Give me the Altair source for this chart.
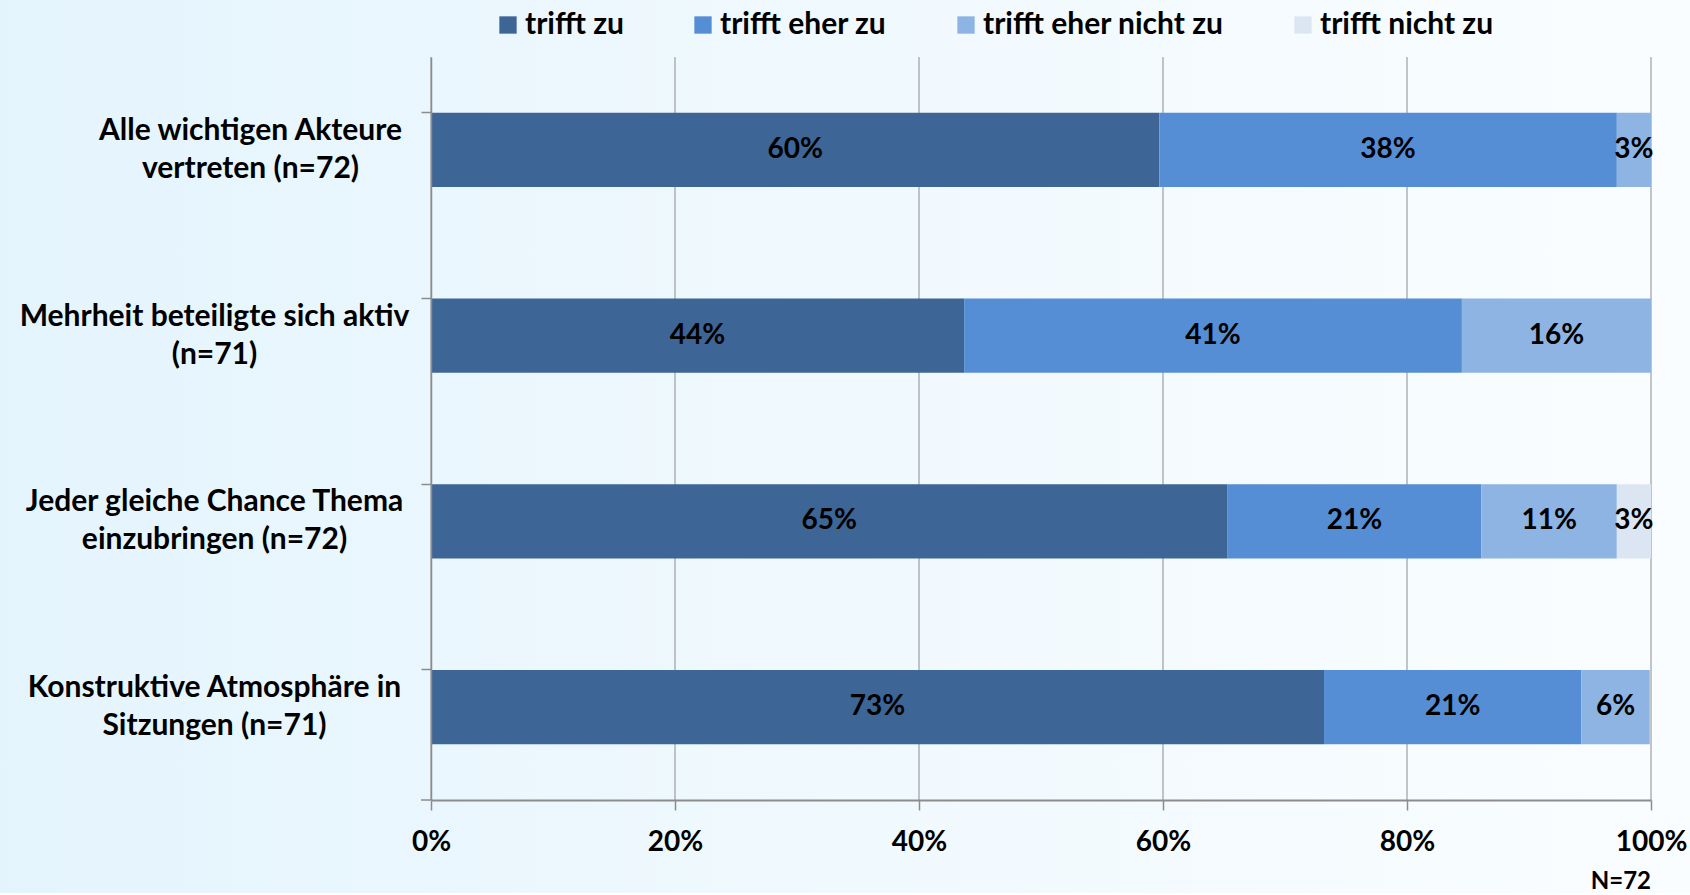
import altair as alt
import pandas as pd

# ---- data ----
categories = [
    "Alle wichtigen Akteure|vertreten (n=72)",
    "Mehrheit beteiligte sich aktiv|(n=71)",
    "Jeder gleiche Chance Thema|einzubringen (n=72)",
    "Konstruktive Atmosphäre in|Sitzungen (n=71)",
]
answers = ["trifft zu", "trifft eher zu", "trifft eher nicht zu", "trifft nicht zu"]
trifft_zu = [59.7, 43.7, 65.3, 73.2]
trifft_eher_zu = [37.5, 40.8, 20.8, 21.1]
trifft_eher_nicht_zu = [2.8, 15.5, 11.1, 5.6]
trifft_nicht_zu = [0.0, 0.0, 2.8, 0.0]
x_ticks = [0, 20, 40, 60, 80, 100]
colors = ["#3d6596", "#558ed5", "#8eb4e3", "#dce6f2"]
footnote = "N=72"

series = [trifft_zu, trifft_eher_zu, trifft_eher_nicht_zu, trifft_nicht_zu]
rows = []
for i, cat in enumerate(categories):
    start = 0.0
    for j, ans in enumerate(answers):
        v = series[j][i]
        rows.append({
            "category": cat, "answer": ans, "order": j,
            "start": start, "end": start + v, "mid": start + v / 2,
            "value": v, "label": f"{v:.0f}%" if v > 0 else "",
        })
        start += v
df = pd.DataFrame(rows)
df_bars = df[df["value"] > 0]
df_grid = pd.DataFrame({"tick": x_ticks})

FONT = "Lato"
GRAY = "#8c8c8c"
W, H = 1220, 743

bg = alt.Chart(alt.Data(values=[{}])).mark_rect(
    fill={"gradient": "linear", "x1": 0, "x2": 1, "y1": 0, "y2": 0,
          "stops": [{"offset": 0, "color": "#e4f4fd"},
                    {"offset": 0.5, "color": "#f0f9fe"},
                    {"offset": 1, "color": "#fafdff"}]}
).encode(x=alt.value(-431), x2=alt.value(W + 39), y=alt.value(-57), y2=alt.value(H + 93))

x_scale = alt.Scale(domain=[0, 100], nice=False)
x_axis = alt.Axis(
    title=None, values=x_ticks, labelExpr="datum.value + '%'", grid=False,
    domainColor=GRAY, domainWidth=2, tickColor=GRAY, tickWidth=1.5, tickSize=10,
    labelPadding=18, labelFlush=False, labelAlign="center", zindex=1,
    labelFont=FONT, labelFontSize=28, labelFontWeight="bold", labelColor="black",
)

grid = alt.Chart(df_grid).mark_rule(color=GRAY, strokeWidth=1).encode(
    x=alt.X("tick:Q", scale=x_scale, axis=x_axis),
    y=alt.value(0), y2=alt.value(H),
)

y_enc = alt.Y(
    "category:N", sort=categories,
    scale=alt.Scale(domain=categories, paddingInner=0.6, paddingOuter=0.3),
    axis=alt.Axis(
        title=None, labelExpr="split(datum.label, '|')", labelAlign="center",
        labelBaseline="middle",
        labelPadding={"condition": {"test": f"datum.value === '{categories[0]}'", "value": 171},
                      "value": 207},
        labelLineHeight=38, labelOffset=-19,
        tickSize=10, bandPosition=0, domainColor=GRAY, tickColor=GRAY,
        domainWidth=1.5, tickWidth=1.5,
        labelFont=FONT, labelFontSize=30, labelFontWeight="bold", labelColor="black",
        labelLimit=1000, zindex=1,
    ),
)

bars = alt.Chart(df_bars).mark_bar(opacity=1).encode(
    y=y_enc,
    x=alt.X("start:Q", scale=x_scale, axis=x_axis),
    x2="end:Q",
    color=alt.Color(
        "answer:N",
        scale=alt.Scale(domain=answers, range=colors),
        legend=alt.Legend(
            title=None, orient="none", legendX=62, legendY=-47, direction="horizontal",
            symbolType="square", symbolSize=300, symbolStrokeWidth=0, symbolOpacity=1,
            labelFont=FONT, labelFontSize=30, labelFontWeight="bold", labelColor="black",
            columnPadding=64, labelOffset=2, labelLimit=1000,
        ),
    ),
    order=alt.Order("order:Q"),
)

labels = alt.Chart(df_bars).mark_text(
    font=FONT, fontSize=28, fontWeight="bold", color="black", baseline="middle", align="center"
).encode(
    y=alt.Y("category:N", sort=categories),
    x=alt.X("mid:Q"),
    text="label:N",
)

bottom_tick = alt.Chart(alt.Data(values=[{}])).mark_rule(color=GRAY, strokeWidth=1.5).encode(
    x=alt.value(-10), x2=alt.value(0), y=alt.value(H)
)

note = alt.Chart(alt.Data(values=[{}])).mark_text(
    font=FONT, fontSize=24, fontWeight="bold", color="black", align="right", baseline="middle"
).encode(x=alt.value(W), y=alt.value(H + 82), text=alt.value(footnote))

chart = alt.layer(bg, grid, bars, labels, bottom_tick, note).properties(
    width=W, height=H,
    autosize=alt.AutoSizeParams(type="none"),
    padding={"left": 431, "top": 57, "right": 39, "bottom": 95},
    background="white",
).configure_view(stroke=None)

chart.save("out.html", embed_options={"renderer": "svg", "actions": False})
